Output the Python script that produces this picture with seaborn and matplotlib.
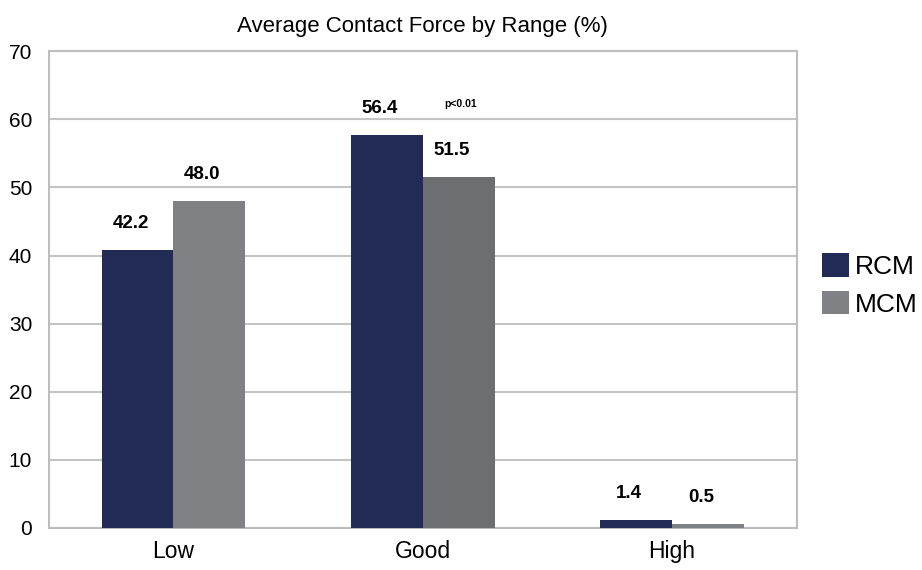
import pandas as pd
import matplotlib
matplotlib.use("Agg")
import matplotlib.pyplot as plt
import seaborn as sns

# data
categories = ["Low", "Good", "High"]
rcm_values = [40.8, 57.7, 1.2]      # bar heights as drawn
mcm_values = [48.0, 51.6, 0.6]
rcm_labels = ["42.2", "56.4", "1.4"]  # printed values
mcm_labels = ["48.0", "51.5", "0.5"]
groups = ["RCM", "MCM"]
colors = {"RCM": "#222a56", "MCM": "#808184"}

df = pd.DataFrame({
    "Range": categories * 2,
    "Value": rcm_values + mcm_values,
    "Group": ["RCM"] * 3 + ["MCM"] * 3,
})

sns.set_style("white")
plt.rcParams["font.family"] = ["Liberation Sans", "DejaVu Sans"]
plt.rcParams["text.color"] = "black"

fig = plt.figure(figsize=(9.22, 5.70), dpi=100)
ax = fig.add_axes([0.053, 0.074, 0.811, 0.836])

sns.barplot(data=df, x="Range", y="Value", hue="Group", hue_order=groups,
            palette=colors, width=0.576, saturation=1, linewidth=0, ax=ax, zorder=3)

# the Good/MCM bar is a shade darker in the original
ax.containers[1][1].set_facecolor("#6d6e71")

ax.set_ylim(0, 70)
ax.set_xlim(-0.5, 2.5)
ax.set_yticks(range(0, 71, 10))
ax.yaxis.grid(True, color="#c4c4c4", linewidth=1.5, zorder=0)
ax.set_axisbelow(True)
for s in ax.spines.values():
    s.set_color("#bdbdbd")
    s.set_linewidth(1.5)
ax.tick_params(axis="y", length=0, labelsize=15, colors="black", pad=12)
ax.tick_params(axis="x", length=0, labelsize=16.5, colors="black", pad=9)
ax.set_xlabel("")
ax.set_ylabel("")

# value labels above bars (white box hides the gridline behind them)
for cont, labels in zip(ax.containers, [rcm_labels, mcm_labels]):
    for bar, txt in zip(cont, labels):
        ax.annotate(txt, (bar.get_x() + bar.get_width() / 2, bar.get_height()),
                    xytext=(-5, 19), textcoords="offset points", ha="center", va="center",
                    fontsize=13.5, fontweight="bold",
                    bbox=dict(facecolor="white", edgecolor="none", pad=0.8), zorder=5)

ax.annotate("p<0.01", (ax.containers[1][1].get_x() + 0.15, 62.2),
            ha="center", va="center", fontsize=7.5, fontweight="bold", zorder=5)

ax.set_title("Average Contact Force by Range (%)", fontsize=16, pad=14)

handles, lbls = ax.get_legend_handles_labels()
ax.legend(handles, lbls, loc="center left", bbox_to_anchor=(1.02, 0.51),
          frameon=False, fontsize=19, handlelength=1.0, handleheight=1.0,
          handletextpad=0.25, labelspacing=0.45, borderaxespad=0)

fig.savefig("out.png", dpi=100)
